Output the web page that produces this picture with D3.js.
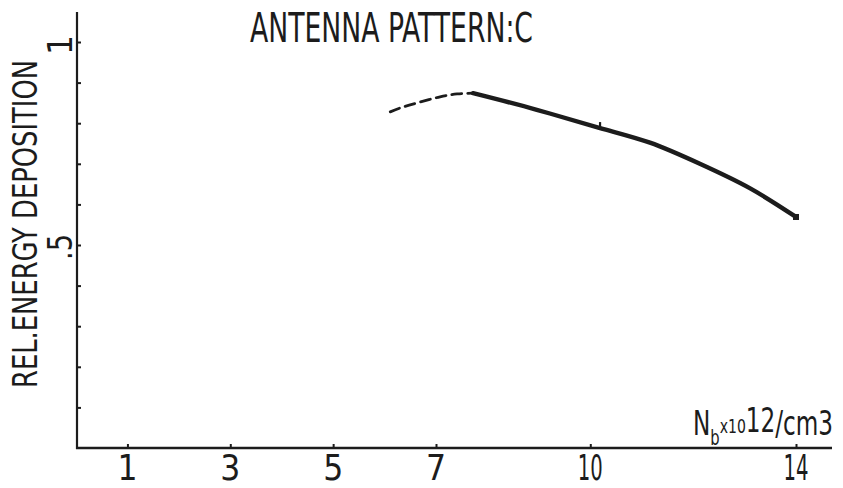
<!DOCTYPE html>
<html>
<head>
<meta charset="utf-8">
<script src="https://cdn.jsdelivr.net/npm/d3@7"></script>
<style>
  html, body { margin: 0; padding: 0; background: #ffffff; }
  svg { display: block; }
  text { font-family: "Liberation Sans Narrow", "DejaVu Sans Condensed", sans-serif; fill: #1c1c1c; }
</style>
</head>
<body>
<svg id="chart" width="843" height="488"></svg>
<script>
// Plasma density (x 10^12 / cm^3) on the horizontal axis
const xTickValues = [1, 3, 5, 7, 10, 14];
const xTickLabels = ["1", "3", "5", "7", "10", "14"];

// Relative energy deposition, minor ticks every 0.1
const yTickValues = [0.1, 0.2, 0.3, 0.4, 0.5, 0.6, 0.7, 0.8, 0.9, 1.0];
const yLabelValues = [1.0, 0.5];
const yLabelTexts = ["1", ".5"];

// Extrapolated (dashed) part of the curve
const dashedDensity = [6.11, 6.36, 6.69, 7.08, 7.41, 7.72];
const dashedEnergy  = [0.828, 0.840, 0.852, 0.865, 0.872, 0.874];

// Computed (solid) part of the curve
const solidDensity = [7.72, 8.96, 10.19, 11.16, 12.13, 13.10, 14.00];
const solidEnergy  = [0.874, 0.833, 0.788, 0.752, 0.700, 0.640, 0.569];

// Calculated points marked on the curve
const markDensity = [10.19];
const markEnergy  = [0.788];
const endDensity = [14.00];
const endEnergy  = [0.569];

const ink = "#1c1c1c";
const svg = d3.select("#chart");

const x = d3.scaleLinear().domain([0, 14]).range([76, 796]);
const y = d3.scaleLinear().domain([0, 1]).range([448, 42]);

// Axes
const yAxis = d3.axisRight(y).tickValues(yTickValues).tickSize(4).tickFormat("");
const gy = svg.append("g").attr("transform", `translate(${x(0) + 1},0)`).call(yAxis);
gy.select(".domain").remove();
gy.selectAll(".tick line").attr("stroke", ink).attr("stroke-width", 2);
svg.append("line")
  .attr("x1", x(0) + 1).attr("x2", x(0) + 1)
  .attr("y1", 12).attr("y2", y(0) + 1)
  .attr("stroke", ink).attr("stroke-width", 2.2);

const xAxis = d3.axisTop(x).tickValues(xTickValues).tickSize(4).tickFormat("");
const gx = svg.append("g").attr("transform", `translate(0,${y(0)})`).call(xAxis);
gx.select(".domain").remove();
gx.selectAll(".tick line").attr("stroke", ink).attr("stroke-width", 2);
svg.append("line")
  .attr("x1", x(0)).attr("x2", 832)
  .attr("y1", y(0)).attr("y2", y(0))
  .attr("stroke", ink).attr("stroke-width", 2.6);

// X tick labels
svg.append("g").selectAll("text")
  .data(xTickValues)
  .join("text")
  .attr("x", d => x(d))
  .attr("y", 480)
  .attr("text-anchor", "middle")
  .attr("font-size", 35)
  .attr("textLength", (d, i) => xTickLabels[i].length > 1 ? 25 : null)
  .attr("lengthAdjust", "spacingAndGlyphs")
  .text((d, i) => xTickLabels[i]);

// Y tick labels (rotated)
svg.append("g").selectAll("text")
  .data(yLabelValues)
  .join("text")
  .attr("transform", d => `translate(72,${y(d) + (d === 0.5 ? 2 : 3)}) rotate(-90)`)
  .attr("text-anchor", "middle")
  .attr("font-size", 34)
  .attr("textLength", (d, i) => yLabelTexts[i].length > 1 ? 26 : null)
  .attr("lengthAdjust", "spacingAndGlyphs")
  .text((d, i) => yLabelTexts[i]);

// Titles
svg.append("text")
  .attr("x", 250).attr("y", 42)
  .attr("font-size", 40)
  .attr("textLength", 283)
  .attr("lengthAdjust", "spacingAndGlyphs")
  .text("ANTENNA PATTERN:C");

svg.append("text")
  .attr("transform", "translate(37,224) rotate(-90)")
  .attr("text-anchor", "middle")
  .attr("font-size", 33)
  .attr("textLength", 328)
  .attr("lengthAdjust", "spacingAndGlyphs")
  .text("REL.ENERGY DEPOSITION");

// X axis unit label: N_b x10^12 /cm3, condensed horizontally
const unit = svg.append("g")
  .attr("transform", "translate(693,435) scale(0.78,1)")
  .append("text")
  .attr("x", 0).attr("y", 0)
  .attr("font-size", 33);
unit.append("tspan").text("N");
unit.append("tspan").attr("font-size", 21).attr("dy", 10).text("b");
unit.append("tspan").attr("font-size", 20).attr("dy", -12).text("x10");
unit.append("tspan").attr("dy", -1).text("12");
unit.append("tspan").attr("dy", 3).text("/cm3");

// Curve
const dashedPts = dashedDensity.map((d, i) => [d, dashedEnergy[i]]);
const solidPts = solidDensity.map((d, i) => [d, solidEnergy[i]]);
const line = d3.line().x(d => x(d[0])).y(d => y(d[1])).curve(d3.curveNatural);

svg.append("path")
  .attr("d", line(dashedPts))
  .attr("fill", "none").attr("stroke", ink)
  .attr("stroke-width", 2.8)
  .attr("stroke-dasharray", "10,6")
  .attr("stroke-linecap", "round");

svg.append("path")
  .attr("d", line(solidPts))
  .attr("fill", "none").attr("stroke", ink)
  .attr("stroke-width", 4.4)
  .attr("stroke-linecap", "round")
  .attr("stroke-linejoin", "round");

// Point markers
svg.append("g").selectAll("line")
  .data(markDensity)
  .join("line")
  .attr("x1", d => x(d)).attr("x2", d => x(d))
  .attr("y1", (d, i) => y(markEnergy[i]) - 6)
  .attr("y2", (d, i) => y(markEnergy[i]))
  .attr("stroke", ink).attr("stroke-width", 2.2);

svg.append("g").selectAll("rect")
  .data(endDensity)
  .join("rect")
  .attr("x", d => x(d) - 3)
  .attr("y", (d, i) => y(endEnergy[i]) - 3)
  .attr("width", 6).attr("height", 6)
  .attr("fill", ink);
</script>
</body>
</html>
